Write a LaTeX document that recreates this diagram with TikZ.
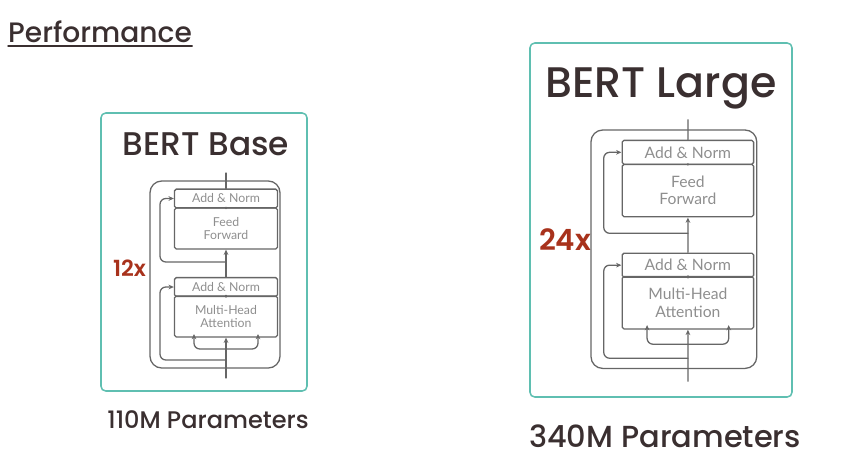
\documentclass[tikz,border=0pt]{standalone}
\usepackage{fontspec}
\setmainfont{Poppins}[UprightFont={* Medium}, BoldFont={* SemiBold}]
\newfontfamily\blockfont{Lato}
\usetikzlibrary{arrows.meta}
\definecolor{tealbox}{HTML}{5FBFB1}
\definecolor{darktext}{HTML}{3A2F30}
\definecolor{rusty}{HTML}{A8321C}
\definecolor{blockgray}{HTML}{666666}
\definecolor{lightgray}{HTML}{8E8E8E}
\tikzset{
  layerbox/.style={draw=blockgray, line width=1.1pt, rounded corners=1.5pt, minimum width=88, minimum height=#1, inner sep=0pt, align=center, font=\blockfont\fontsize{10.5}{11.5}\selectfont, text=lightgray},
  flow/.style={draw=blockgray, line width=1.1pt, -{Stealth[length=4.5pt,width=4pt]}},
  plain/.style={draw=blockgray, line width=1.1pt},
  modelbox/.style={draw=tealbox, line width=1.3pt, rounded corners=4pt}
}
\begin{document}
\begin{tikzpicture}[x=0.03cm, y=-0.03cm, line join=round, line cap=round]
	\useasboundingbox (0,0) rectangle (854,464);
	\node[anchor=base west, inner sep=0pt, text=darktext, font=\fontsize{24}{27}\selectfont] (title) at (8,42) {Performance};
	\draw[darktext, line width=1.2pt] ([yshift=-3.5pt]title.base west) -- ([yshift=-3.5pt]title.base east);
	% teal frames
	\draw[modelbox] (101,113) rectangle (307,391);
	\draw[modelbox] (530,43) rectangle (792,397);
	\node[anchor=base, inner sep=0pt, text=darktext, font=\fontsize{28}{32}\selectfont] (basename) at (206,155) {BERT Base};
	\node[anchor=base, inner sep=0pt, text=darktext, font=\fontsize{36.5}{40}\selectfont] (largename) at (661,97) {BERT Large};
	\node[anchor=base, inner sep=0pt, text=darktext, font=\fontsize{20.5}{24}\selectfont] (baseparams) at (208,428) {110M Parameters};
	\node[anchor=base, inner sep=0pt, text=darktext, font=\fontsize{26}{30}\selectfont] (largeparams) at (665,447) {340M Parameters};
	\node[text=rusty, inner sep=0pt, font=\bfseries\fontsize{19}{22}\selectfont] (basereps) at (129.5,268) {12x};
	\node[text=rusty, inner sep=0pt, font=\bfseries\fontsize{25}{28}\selectfont] (largereps) at (565,240) {24x};
	% encoder blocks
	\foreach \sx/\sy/\sc/\p in {150/181/1/b, 591/130/1.275/l}{
	\begin{scope}[shift={(\sx,\sy)}, scale=\sc, transform shape]
		\draw[plain, rounded corners=10pt] (0,0) rectangle (130,187);
		\node[layerbox=16] (\p an2) at (76,17.5) {Add \& Norm};
		\node[layerbox=35] (\p ff) at (76,47.5) {Feed\\Forward};
		\node[layerbox=16] (\p an1) at (76,106) {Add \& Norm};
		\node[layerbox=35] (\p mha) at (76,135.5) {Multi-Head\\Attention};
		\coordinate (\p in) at (76,197);
		\coordinate (\p out) at (76,-8);
		\coordinate (\p skipa) at (76,179);
		\coordinate (\p skipb) at (76,81);
		\coordinate (\p fork) at (76,168);
		\draw[flow] (\p in) -- (\p mha);
		\draw[flow, rounded corners=5pt] (\p fork) -- (44,168) -- (44,153);
		\draw[flow, rounded corners=5pt] (\p fork) -- (108,168) -- (108,153);
		\draw[plain] (\p mha) -- (\p an1);
		\draw[flow] (\p an1) -- (\p ff);
		\draw[plain] (\p ff) -- (\p an2);
		\draw[plain] (\p an2) -- (\p out);
		\draw[flow, rounded corners=5pt] (\p skipa) -- (10,179) -- (10,106) -- (\p an1.west);
		\draw[flow, rounded corners=5pt] (\p skipb) -- (10,81) -- (10,17.5) -- (\p an2.west);
	\end{scope}
	}
\end{tikzpicture}
\end{document}
